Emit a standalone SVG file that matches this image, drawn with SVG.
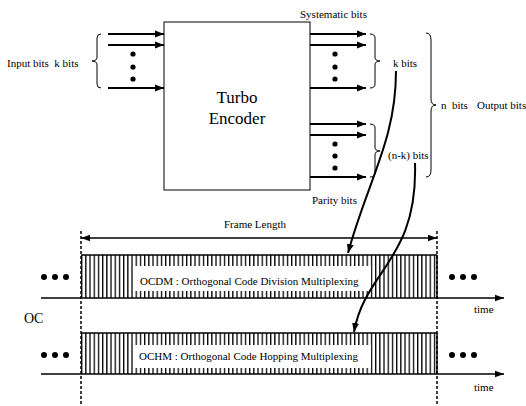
<svg xmlns="http://www.w3.org/2000/svg" width="526" height="406" viewBox="0 0 526 406">
<defs>
<style>
.t{font-family:'Liberation Serif','DejaVu Serif','Times New Roman',serif;font-size:11px;fill:#000;white-space:pre}
.big{font-family:'Liberation Serif','DejaVu Serif','Times New Roman',serif;font-size:17px;fill:#000}
.arr{stroke:#000;stroke-width:2;fill:none;marker-end:url(#ah)}
.ln{stroke:#000;stroke-width:1.5;fill:none}
.br{stroke:#000;stroke-width:1;fill:none}
.dash{stroke:#000;stroke-width:1.5;stroke-dasharray:3 2;fill:none}
.crv{stroke:#000;stroke-width:2;fill:none;marker-end:url(#ah)}
</style>
<marker id="ah" markerUnits="userSpaceOnUse" markerWidth="10" markerHeight="8" refX="9" refY="4" orient="auto">
<path d="M0,0.5 L9,4 L0,7.5 Z" fill="#000"/>
</marker>
<marker id="ahs" markerUnits="userSpaceOnUse" markerWidth="10" markerHeight="8" refX="9" refY="4" orient="auto-start-reverse">
<path d="M0,0.8 L9,4 L0,7.2 Z" fill="#000"/>
</marker>
<pattern id="stripes" patternUnits="userSpaceOnUse" x="81" y="0" width="4.2" height="10">
<rect x="0" y="0" width="1.3" height="10" fill="#000"/>
</pattern>
</defs>

<g id="encoder">
<rect x="164" y="22" width="146" height="168" fill="#fff" stroke="#000" stroke-width="1"/>
<text class="big" font-family="Liberation Serif, serif" x="237" y="103" text-anchor="middle">Turbo</text>
<text class="big" font-family="Liberation Serif, serif" x="237" y="124" text-anchor="middle">Encoder</text>
</g>

<g id="input">
<text class="t" x="7" y="67">Input bits  k bits</text>
<path class="br" d="M101,34 Q97,34 97,38 L97,57 Q97,61 92,61 Q97,61 97,65 L97,84 Q97,88 101,88"/>
<circle cx="133" cy="54" r="2.6"/><circle cx="133" cy="67" r="2.6"/><circle cx="133" cy="79" r="2.6"/>
</g>

<g id="systematic">
<text class="t" x="300" y="18">Systematic bits</text>
<circle cx="335" cy="54" r="2.6"/><circle cx="335" cy="67" r="2.6"/><circle cx="335" cy="79" r="2.6"/>
<path class="br" d="M370,34 Q375,34 375,38 L375,57 Q375,61 380,61 Q375,61 375,65 L375,84 Q375,88 370,88"/>
<text class="t" x="393" y="67">k bits</text>
</g>

<g id="parity">
<circle cx="335" cy="144" r="2.6"/><circle cx="335" cy="156" r="2.6"/><circle cx="335" cy="168" r="2.6"/>
<path class="br" d="M370,124 Q375,124 375,128 L375,147 Q375,151 380,151 Q375,151 375,155 L375,173 Q375,177 370,177"/>
<text class="t" x="388" y="159">(n-k) bits</text>
<text class="t" x="312" y="204">Parity bits</text>
</g>

<g id="output">
<path class="br" d="M426,33 Q431,33 431,40 L431,99 Q431,105 436,105 Q431,105 431,111 L431,170 Q431,177 426,177"/>
<text class="t" x="441" y="109">n  bits</text>
<text class="t" x="477" y="109">Output bits</text>
</g>

<g id="ocdm">
<rect x="81" y="255" width="356" height="43" fill="url(#stripes)"/>
<line class="ln" x1="81" y1="255" x2="437" y2="255" stroke-width="1.2"/>
<line class="ln" x1="437" y1="255" x2="437" y2="298" stroke-width="1.2"/>
<rect x="133" y="266" width="238" height="25" fill="#fff"/>
<text class="t" x="140" y="285">OCDM : Orthogonal Code Division Multiplexing</text>
<circle cx="44" cy="277" r="3"/><circle cx="55" cy="277" r="3"/><circle cx="66" cy="277" r="3"/>
<circle cx="452" cy="277" r="3"/><circle cx="463" cy="277" r="3"/><circle cx="474" cy="277" r="3"/>
<text class="t" x="474" y="313">time</text>
</g>

<g id="ochm">
<rect x="81" y="333" width="356" height="41" fill="url(#stripes)"/>
<line class="ln" x1="81" y1="333" x2="437" y2="333" stroke-width="1.2"/>
<line class="ln" x1="437" y1="333" x2="437" y2="374" stroke-width="1.2"/>
<rect x="134" y="345" width="237" height="23" fill="#fff"/>
<text class="t" x="139" y="360">OCHM : Orthogonal Code Hopping Multiplexing</text>
<circle cx="44" cy="355" r="3"/><circle cx="55" cy="355" r="3"/><circle cx="66" cy="355" r="3"/>
<circle cx="452" cy="355" r="3"/><circle cx="463" cy="355" r="3"/><circle cx="474" cy="355" r="3"/>
<text class="t" x="474" y="391">time</text>
</g>

<g id="labels">
<text class="t" x="255" y="228" text-anchor="middle">Frame Length</text>
<text class="t" x="24" y="323" style="font-size:14px">OC</text>
</g>

<g id="connectors">
<line class="arr" x1="108" y1="34" x2="164" y2="34"/>
<line class="arr" x1="108" y1="45" x2="164" y2="45"/>
<line class="arr" x1="108" y1="88" x2="164" y2="88"/>
<line class="arr" x1="310" y1="34" x2="366" y2="34"/>
<line class="arr" x1="310" y1="45" x2="366" y2="45"/>
<line class="arr" x1="310" y1="88" x2="366" y2="88"/>
<line class="arr" x1="310" y1="124" x2="366" y2="124"/>
<line class="arr" x1="310" y1="135" x2="366" y2="135"/>
<line class="arr" x1="310" y1="177" x2="366" y2="177"/>
<line class="ln" x1="81" y1="238" x2="437" y2="238" marker-start="url(#ahs)" marker-end="url(#ahs)"/>
<line class="dash" x1="81" y1="231" x2="81" y2="406"/>
<line class="dash" x1="437" y1="231" x2="437" y2="406"/>
<line class="ln" x1="41" y1="298" x2="504" y2="298" marker-end="url(#ahs)"/>
<line class="ln" x1="41" y1="374" x2="504" y2="374" marker-end="url(#ahs)"/>
<path class="crv" d="M396,71 C396,140 368,180 348,253"/>
<path class="crv" d="M415,163 C418,260 365,270 354,332"/>
</g>
</svg>
